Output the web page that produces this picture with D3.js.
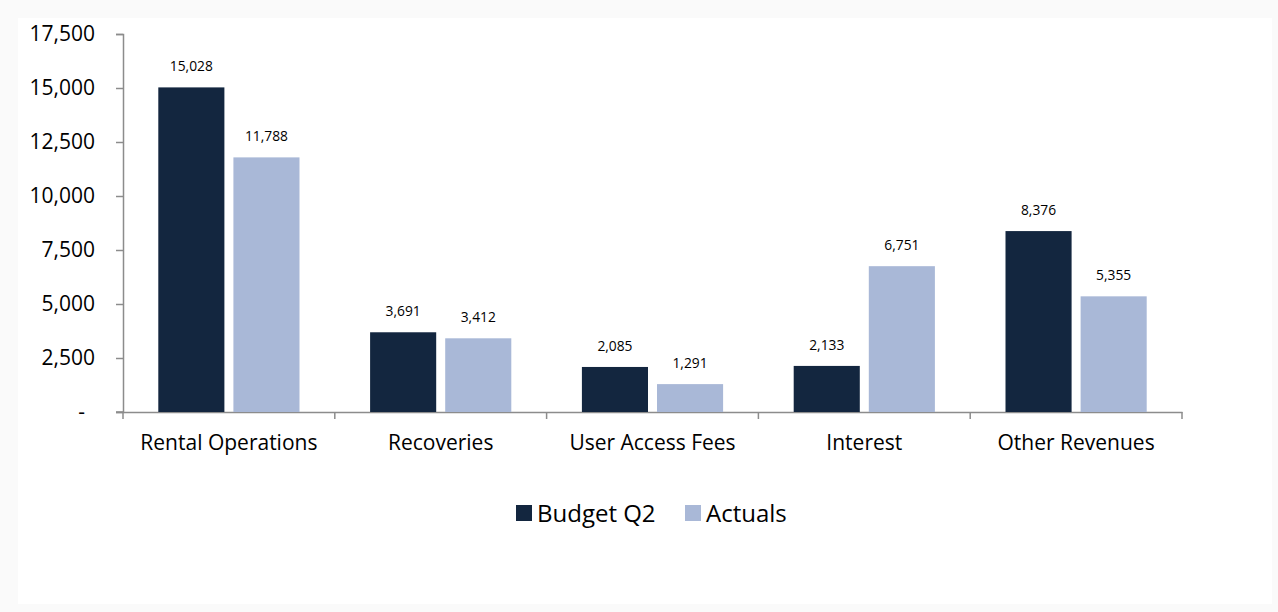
<!DOCTYPE html>
<html><head><meta charset="utf-8">
<script src="https://cdn.jsdelivr.net/npm/d3@7"></script>
<style>html,body{margin:0;padding:0;background:#fafafa;}svg{display:block;}svg text{font-family:"Open Sans",Lato,sans-serif;}</style>
</head><body>
<svg id="c" width="1278" height="612"></svg>
<script>
const categories = ["Rental Operations","Recoveries","User Access Fees","Interest","Other Revenues"];
const seriesNames = ["Budget Q2","Actuals"];
const budget = [15028,3691,2085,2133,8376];
const actuals = [11788,3412,1291,6751,5355];
const yTicks = [0,2500,5000,7500,10000,12500,15000,17500];
const colors = ["#13263F","#A9B8D7"];

const svg = d3.select("#c");
svg.append("rect").attr("x",18).attr("y",18).attr("width",1254).attr("height",586).attr("fill","#fff");

const x0 = 123, x1 = 1182, yTop = 34, yBot = 412;
const x = d3.scaleBand().domain(categories).range([x0,x1]).paddingInner(0).paddingOuter(0);
const xs = d3.scaleBand().domain(seriesNames).range([0,x.bandwidth()]).paddingInner(0.12).paddingOuter(0.47);
const y = d3.scaleLinear().domain([0,17500]).range([yBot,yTop]);
const fmt = d3.format(",");

// y axis
const ya = svg.append("g").attr("transform",`translate(${x0},0)`)
  .call(d3.axisLeft(y).tickValues(yTicks).tickSize(7).tickPadding(21).tickFormat(d=>d===0?"-":fmt(d)));
ya.attr("font-family",null);
ya.select(".domain").attr("stroke","#8c8c8c").attr("stroke-width",1.5);
ya.selectAll(".tick line").attr("stroke","#8c8c8c").attr("stroke-width",1.5);
ya.selectAll(".tick text").attr("font-size",21).attr("fill","#000");
ya.selectAll(".tick").filter(d=>d===0).select("text").attr("dx",-10);

// x axis
const xa = svg.append("g").attr("transform",`translate(0,${yBot})`)
  .call(d3.axisBottom(x).tickSize(0).tickPadding(23));
xa.attr("font-family",null);
xa.select(".domain").attr("stroke","#8c8c8c").attr("stroke-width",1.5);
xa.selectAll(".tick text").attr("font-size",21).attr("fill","#000");
const bounds = categories.map(c=>x(c)).concat([x1]);
svg.append("g").selectAll("line").data(bounds).join("line")
  .attr("x1",d=>d).attr("x2",d=>d).attr("y1",yBot).attr("y2",yBot+7)
  .attr("stroke","#8c8c8c").attr("stroke-width",1.5);
svg.append("line").attr("x1",x0-7).attr("x2",x0).attr("y1",yBot).attr("y2",yBot).attr("stroke","#8c8c8c").attr("stroke-width",1.5);

const data = [budget, actuals];
seriesNames.forEach((s,i)=>{
  const g = svg.append("g");
  g.selectAll("rect").data(categories).join("rect")
    .attr("x",c=>x(c)+xs(s)).attr("width",xs.bandwidth())
    .attr("y",(c,j)=>y(data[i][j])).attr("height",(c,j)=>yBot-y(data[i][j]))
    .attr("fill",colors[i]);
  g.selectAll("text").data(categories).join("text")
    .attr("x",c=>x(c)+xs(s)+xs.bandwidth()/2)
    .attr("y",(c,j)=>y(data[i][j])-16)
    .attr("text-anchor","middle").attr("font-size",13.8).attr("fill","#000")
    .text((c,j)=>fmt(data[i][j]));
});

// legend
const leg = svg.append("g");
const lx = [516,685];
seriesNames.forEach((s,i)=>{
  leg.append("rect").attr("x",lx[i]).attr("y",505).attr("width",16).attr("height",16).attr("fill",colors[i]);
  leg.append("text").attr("x",lx[i]+21).attr("y",522).attr("font-size",24).attr("fill","#000").text(s);
});
</script>
</body></html>
